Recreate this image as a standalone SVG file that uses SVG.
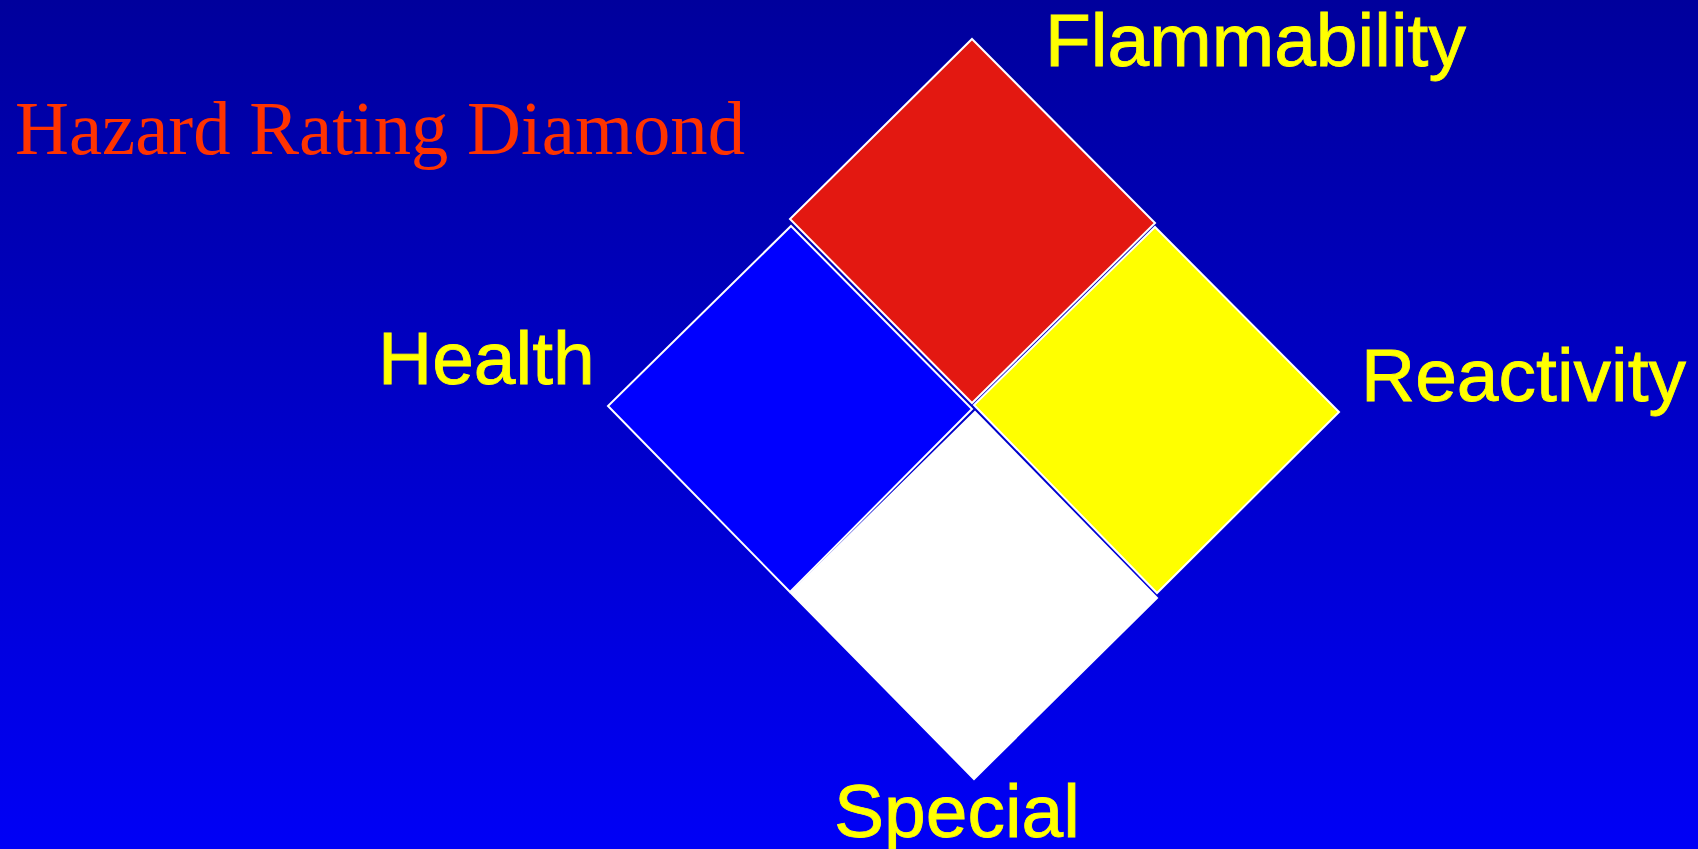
<svg xmlns="http://www.w3.org/2000/svg" width="1698" height="849" viewBox="0 0 1698 849">
<defs>
<linearGradient id="bg" x1="0" y1="0" x2="0" y2="1">
<stop offset="0" stop-color="#00009C"/>
<stop offset="1" stop-color="#0000F6"/>
</linearGradient>
</defs>
<style>
.lbl{font-family:"Liberation Sans",Arial,sans-serif;font-size:75px;fill:#FFFF00;stroke:#FFFF00;stroke-width:0.8px}
.title{font-family:"Liberation Serif","Times New Roman",serif;font-size:77px;fill:#FF3300}
.sq{stroke:#FFFFFF;stroke-width:2;stroke-linejoin:miter}
</style>
<rect x="0" y="0" width="1698" height="849" fill="url(#bg)"/>
<text class="title" x="15" y="154" textLength="730" lengthAdjust="spacingAndGlyphs">Hazard Rating Diamond</text>
<g id="flammability">
<polygon class="sq" points="972,39 1155,223 972,403 790,219" fill="#E31811"/>
<text class="lbl" x="1045" y="66">Flammability</text>
</g>
<g id="health">
<polygon class="sq" points="791,226 972,409 790,592 608,406" fill="#0000FF"/>
<text class="lbl" x="378" y="384">Health</text>
</g>
<g id="reactivity">
<polygon class="sq" points="1155,227 1339,412 1157,593 974,405" fill="#FFFF00"/>
<text class="lbl" x="1361" y="401">Reactivity</text>
</g>
<g id="special">
<polygon class="sq" points="975,412 1157,598 974,779 791,593" fill="#FFFFFF"/>
<text class="lbl" x="834" y="837">Special</text>
</g>
<g id="connectors"></g>
</svg>
